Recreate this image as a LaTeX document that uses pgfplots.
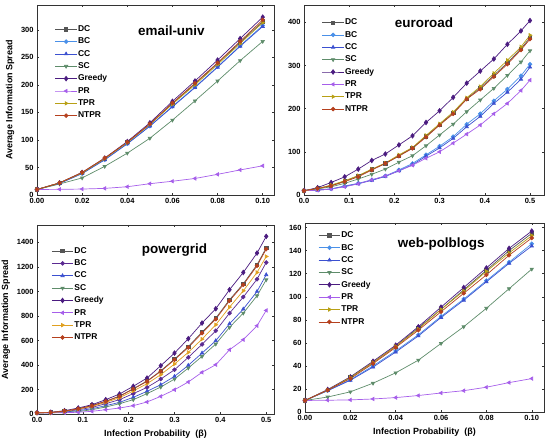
\documentclass[border=0pt]{standalone}
\usepackage{pgfplots}
\usepackage{pgfplotstable}
\pgfplotsset{compat=1.18}
\usepackage{fontspec}
\setmainfont{Liberation Sans}

\definecolor{DCc}{HTML}{555555}
\definecolor{BCc}{HTML}{4A90E8}
\definecolor{BCd}{HTML}{5B2A92}
\definecolor{CCc}{HTML}{3B50D0}
\definecolor{SCc}{HTML}{5E8C6A}
\definecolor{GRc}{HTML}{4B1C80}
\definecolor{PRc}{HTML}{A65EEA}
\definecolor{TPRc}{HTML}{B8A015}
\definecolor{TPRd}{HTML}{E0A020}
\definecolor{NTPRc}{HTML}{B5401E}

\pgfplotstableread{
x DC BC CC SC GR PR TPR NTPR
0 10 10 10 10 10 10 10 10
0.01 22 21 21 20 22 10.3 22 22
0.02 40 39 39 31 41 10.8 40 41
0.03 66 64 64 52 67 12 66 67
0.04 96 93 93 76 97 15 95 96
0.05 128 125 125 103 131 20.5 128 129
0.06 166 161 160 136 170 25 165 167
0.07 202 196 195 171 207 30 200 203
0.08 239 233 232 207 245 37.5 237 240
0.09 277 271 270 244 284 45.5 275 279
0.10 315 308 306 279 323 53 313 318
}\email

\pgfplotstableread{
x DC BC CC SC GR PR TPR NTPR
0 10 10 10 10 10 10 10 10
0.03 15 12 11 14 17 11 15 15
0.06 22 14 14 19 29 14 23 21
0.09 32 21 20 27 42 19 33 31
0.12 44 27 26 37 60 26 45 42
0.15 59 35 34 48 80 35 60 58
0.18 73 44 43 60 95 44 74 73
0.21 91 58 56 76 116 56 93 90
0.24 109 73 70 91 137 69 110 108
0.27 136 93 90 114 168 85 138 134
0.30 163 113 109 139 195 100 165 162
0.33 190 135 131 164 226 120 192 188
0.36 223 164 158 193 259 141 225 222
0.39 248 188 182 220 287 162 251 245
0.42 277 218 212 247 315 188 282 274
0.45 306 245 238 277 349 212 312 303
0.48 339 276 268 308 380 242 343 336
0.50 364 303 296 334 404 266 370 361
}\euro

\pgfplotstableread{
x DC BC CC SC GR PR TPR NTPR
0 10 10 10 10 10 10 10 10
0.03 12 11 11 10 14 10 12 12
0.06 24 19 16 13 27 11 22 24
0.09 43 35 27 19 49 14 40 43
0.12 69 54 43 35 76 22 62 68
0.15 104 84 68 57 117 35 95 103
0.18 146 117 95 84 163 49 133 144
0.21 206 166 136 117 226 68 188 204
0.24 269 217 185 166 293 98 247 266
0.27 352 285 239 220 394 144 321 348
0.30 448 361 307 285 497 198 408 443
0.33 550 462 397 375 614 261 503 543
0.36 668 568 497 470 742 340 611 660
0.39 782 679 598 571 859 402 728 774
0.42 932 823 736 707 1014 524 872 924
0.45 1062 954 856 823 1155 606 1005 1054
0.48 1218 1100 1000 965 1313 720 1155 1209
0.50 1355 1236 1136 1095 1449 845 1285 1345
}\power

\pgfplotstableread{
x DC BC CC SC GR PR TPR NTPR
0 10 10 10 10 10 10 10 10
0.01 19 18.5 18.5 13 19.5 10.2 19 19
0.02 30 28 27.5 17.5 30.5 10.5 30 29
0.03 43 40 39 25 44 11.3 43 42
0.04 57 53 52 34 58 12.5 57 56
0.05 73 67 66 45 74 14.3 72 71
0.06 89 83 82 59.5 91 16.5 89 87
0.07 106 98 97 74 108 18.5 105 103
0.08 123 114 113 90 125 21.5 122 119
0.09 140 130 129 107 142 25.5 138 136
0.10 155 146 144 124 157 29 153 151
}\polb

\tikzset{ttl/.style={font=\fontsize{13.5}{15}\selectfont\bfseries}}

\pgfplotsset{
  base/.style={
    scale only axis,
    axis line style={black!80, line width=0.7pt},
    tick style={black!80, line width=0.5pt},
    major tick length=2.2pt,
    tick align=inside,
    ticklabel style={font=\fontsize{7.5}{9}\selectfont\bfseries},
    /pgf/number format/assume math mode=true,
    /pgf/number format/1000 sep={},
    scaled x ticks=false, scaled y ticks=false,
    label style={font=\fontsize{9}{10}\selectfont\bfseries},
    legend cell align=left,
    legend style={draw=none, fill=none, font=\fontsize{8.5}{9}\selectfont\bfseries,
      anchor=north west, row sep=2.3pt, inner sep=0pt,
      nodes={inner sep=0.8pt, text height=6.5pt, text depth=2pt}},
    legend image code/.code={\draw[mark repeat=2,mark phase=2] plot coordinates {(0cm,0cm) (0.38cm,0cm) (0.76cm,0cm)};},
    every axis plot/.append style={line width=0.7pt, mark size=1.9pt},
    ymin=0,
  },
  x2/.style={xtick={0,0.02,...,0.1001}, xticklabel={\pgfmathprintnumber[fixed,fixed zerofill,precision=2]{\tick}}},
  x1/.style={xtick={0,0.1,...,0.501}, xticklabel={\pgfmathprintnumber[fixed,fixed zerofill,precision=1]{\tick}}},
}

\newcommand{\allplots}[3]{%
  \addplot[color=DCc, mark=square*, mark size=1.7pt] table[x=x,y=DC]{#1}; \addlegendentry{DC}
  \addplot[color=#2, mark=*] table[x=x,y=BC]{#1}; \addlegendentry{BC}
  \addplot[color=CCc, mark=triangle*] table[x=x,y=CC]{#1}; \addlegendentry{CC}
  \addplot[color=SCc, mark=triangle*, mark options={rotate=180}] table[x=x,y=SC]{#1}; \addlegendentry{SC}
  \addplot[color=GRc, mark=diamond*, mark size=2.3pt] table[x=x,y=GR]{#1}; \addlegendentry{Greedy}
  \addplot[color=PRc, mark=triangle*, mark options={rotate=90}] table[x=x,y=PR]{#1}; \addlegendentry{PR}
  \addplot[color=#3, mark=triangle*, mark options={rotate=-90}] table[x=x,y=TPR]{#1}; \addlegendentry{TPR}
  \addplot[color=NTPRc, mark=*] table[x=x,y=NTPR]{#1}; \addlegendentry{NTPR}
}

\begin{document}
\begin{tikzpicture}
\useasboundingbox (0bp,0bp) rectangle (550bp,446bp);

% email-univ
\begin{axis}[base, x2, at={(37bp,251bp)}, anchor=south west, width=237bp, height=190bp,
  xmin=0, xmax=0.105, ymax=345, ytick={0,50,...,300},
  legend style={at={(0.075,0.90)}},
  ylabel={Average Information Spread}]
\allplots{\email}{BCc}{TPRc}
\node[ttl] at (rel axis cs:0.567,0.864) {email-univ};
\end{axis}

% euroroad
\begin{axis}[base, x1, at={(304bp,251bp)}, anchor=south west, width=240bp, height=190bp,
  xmin=0, xmax=0.531, ymax=440, ytick={0,100,...,400},
  legend style={at={(0.074,0.935)}}]
\allplots{\euro}{BCc}{TPRc}
\node[ttl] at (rel axis cs:0.50,0.905) {euroroad};
\end{axis}

% powergrid
\begin{axis}[base, x1, at={(37bp,32bp)}, anchor=south west, width=237bp, height=189bp,
  xmin=0, xmax=0.517, ymax=1542, ytick={0,200,...,1400},
  legend style={at={(0.06,0.89)}},
  ylabel={Average Information Spread}, xlabel={Infection Probability\ \ (β)}]
\allplots{\power}{BCd}{TPRd}
\node[ttl] at (rel axis cs:0.58,0.87) {powergrid};
\end{axis}

% web-polblogs
\begin{axis}[base, x2, at={(305bp,34bp)}, anchor=south west, width=239bp, height=189bp,
  xmin=0, xmax=0.1054, ymax=164, ytick={0,20,...,160},
  legend style={at={(0.055,0.962)}},
  xlabel={Infection Probability\ \ (β)}]
\allplots{\polb}{BCc}{TPRc}
\node[ttl] at (rel axis cs:0.57,0.89) {web-polblogs};
\end{axis}
\end{tikzpicture}
\end{document}
